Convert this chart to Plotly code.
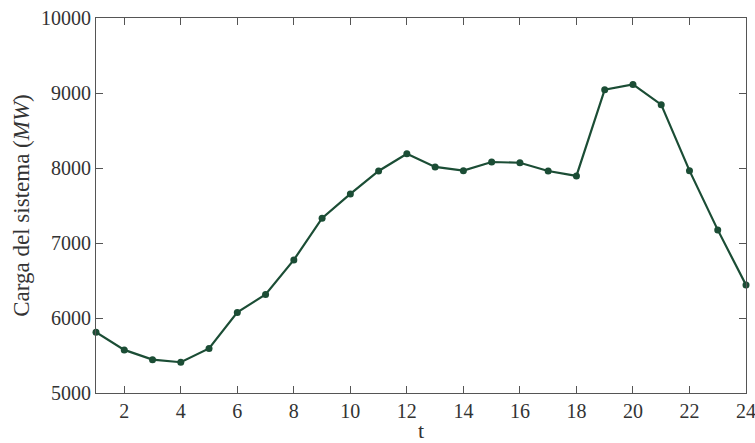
import plotly.graph_objects as go

t = list(range(1, 25))
carga = [5810, 5575, 5445, 5410, 5595, 6075, 6315, 6775, 7330, 7655,
         7960, 8190, 8015, 7965, 8080, 8070, 7960, 7895, 9045, 9115,
         8845, 7965, 7175, 6440]
x_ticks = list(range(2, 25, 2))
y_ticks = list(range(5000, 10001, 1000))

FONT = "Liberation Serif"
fig = go.Figure()
fig.add_trace(go.Scatter(
    x=t, y=carga, mode="lines+markers",
    line=dict(color="#1b4d35", width=2.2),
    marker=dict(color="#1b4d35", size=7),
    showlegend=False, cliponaxis=False,
))
axis_common = dict(
    showline=True, linecolor="#555555", linewidth=1, mirror="ticks",
    ticks="inside", ticklen=7, tickcolor="#555555", tickwidth=1,
    showgrid=False, zeroline=False, automargin=False,
    ticklabeloverflow="allow",
    tickfont=dict(family=FONT, size=20, color="#333333"),
)
fig.update_xaxes(range=[1, 24], tickvals=x_ticks, ticktext=[str(v) for v in x_ticks],
                 title=dict(text="t", font=dict(family=FONT, size=22, color="#333333"), standoff=2),
                 **axis_common)
fig.update_yaxes(range=[5000, 10000], tickvals=y_ticks, ticktext=[str(v) for v in y_ticks],
                 title=dict(text="Carga del sistema (<i>MW</i>)", font=dict(family=FONT, size=23, color="#333333"), standoff=4),
                 **axis_common)
fig.update_layout(
    width=755, height=443,
    margin=dict(l=96, r=9, t=18, b=50),
    paper_bgcolor="white", plot_bgcolor="white",
    font=dict(family=FONT),
)
fig.write_html("out.html")
